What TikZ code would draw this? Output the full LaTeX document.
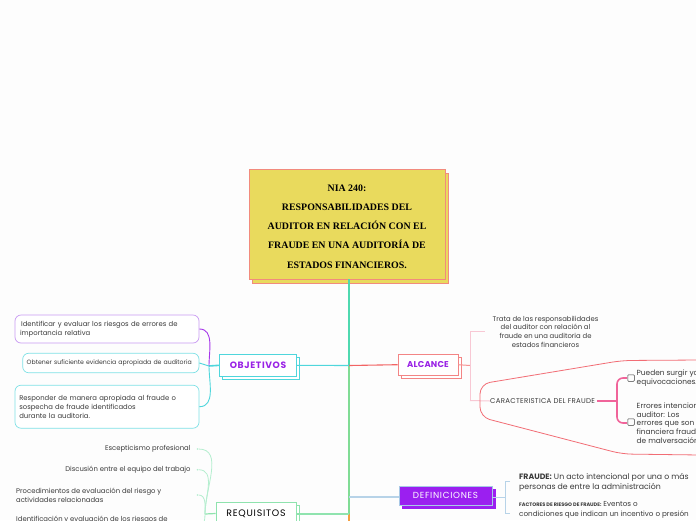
\documentclass[tikz,border=0pt]{standalone}
\usepackage{fontspec}
\setmainfont{Poppins}
\newfontfamily\titlefont{Liberation Serif}
\newfontfamily\spacedfont[LetterSpace=8]{Poppins}
\newfontfamily\spacedbold[LetterSpace=2]{Poppins}
\newfontfamily\widebold[LetterSpace=7]{Poppins}
\newfontfamily\capsfont[LetterSpace=4]{Poppins}
\usetikzlibrary{shadows}
\definecolor{bgc}{HTML}{FDFDFD}
\definecolor{titlefill}{HTML}{E9DA5D}
\definecolor{titledraw}{HTML}{F28B7D}
\definecolor{tealc}{HTML}{4FD6DC}
\definecolor{objtext}{HTML}{9A22E6}
\definecolor{redc}{HTML}{F26464}
\definecolor{alcdraw}{HTML}{F38585}
\definecolor{pinklight}{HTML}{F8C8D4}
\definecolor{bracepink}{HTML}{F0649A}
\definecolor{outlinered}{HTML}{F26D75}
\definecolor{deffill}{HTML}{9B1FF0}
\definecolor{defdraw}{HTML}{A8C8E6}
\definecolor{bluec}{HTML}{B7D3E8}
\definecolor{greenc}{HTML}{8FE3AE}
\definecolor{reqlight}{HTML}{B5EECF}
\definecolor{trunktop}{HTML}{4FD9B0}
\definecolor{trunklow}{HTML}{80DC95}
\definecolor{orangec}{HTML}{F5A040}
\definecolor{purpleline}{HTML}{A636EA}
\definecolor{purplebox}{HTML}{C99AF2}
\definecolor{tealbox}{HTML}{7FE1E6}
\definecolor{txt}{HTML}{3A3A3A}
\tikzset{
  body/.style={font=\fontsize{6.85}{8.8}\selectfont, text=txt, inner sep=0pt},
  hdr/.style={draw, line width=0.9pt, fill=white, inner sep=0pt,
    copy shadow={shadow xshift=3pt, shadow yshift=-3pt}},
  objbox/.style={draw, line width=0.7pt, rounded corners=6pt, fill=white,
    body, align=left},
  dotn/.style={circle, fill=reqlight, inner sep=0pt, minimum size=1.8pt},
  chk/.style={draw=txt, line width=0.5pt, rounded corners=0.8pt, minimum size=6.5pt, inner sep=0pt},
}
\begin{document}
\begin{tikzpicture}[x=1pt,y=-1pt]
\useasboundingbox (0,0) rectangle (696,520);
\fill[bgc] (0,0) rectangle (696,520);

% title
\node[draw=titledraw, line width=0.9pt, fill=titlefill, minimum width=196pt, minimum height=110pt,
  copy shadow={shadow xshift=3.5pt, shadow yshift=-4pt}] (title) at (347,224) {};
\node[font=\titlefont\bfseries\fontsize{9.9}{19.2}\selectfont, align=center, inner sep=0pt] (titletext) at (347,226.5)
  {NIA 240:\\RESPONSABILIDADES DEL\\AUDITOR EN RELACIÓN CON EL\\FRAUDE EN UNA AUDITORÍA DE\\ESTADOS FINANCIEROS.};

% trunk coordinates
\coordinate (tA) at (349,365.5);
\coordinate (tB) at (349,497);
\coordinate (tC) at (349,514);
\coordinate (tD) at (349,521);

% main nodes
\node[hdr, draw=tealc, minimum width=77pt, minimum height=22pt,
  font=\widebold\bfseries\fontsize{9.2}{10}\selectfont, text=objtext] (obj) at (258,365.3) {OBJETIVOS};
\node[hdr, draw=alcdraw, minimum width=60pt, minimum height=21pt,
  font=\spacedbold\bfseries\fontsize{8.5}{10}\selectfont, text=objtext] (alc) at (428,364.7) {ALCANCE};
\node[draw=defdraw, line width=0.9pt, fill=deffill, inner sep=0pt, minimum width=93pt, minimum height=19pt,
  copy shadow={shadow xshift=3pt, shadow yshift=-3pt, draw=deffill},
  font=\spacedfont\fontsize{8.8}{10}\selectfont, text=white] (def) at (445.5,495.5) {DEFINICIONES};
\node[hdr, draw=greenc, minimum width=80pt, minimum height=23pt,
  font=\spacedfont\fontsize{9.4}{10}\selectfont, text=black] (req) at (256,513.5) {REQUISITOS};

% trunk
\draw[trunktop, line width=1.2pt] (title.south -| tA) -- (tA);
\draw[trunklow, line width=1.2pt] (tA) -- (tC);
\draw[orangec, line width=1.2pt] (tC) -- (tD);

% branches from trunk
\draw[tealc, line width=1.1pt] (tA) -- (obj.east);
\draw[redc, line width=1.1pt] (tA) -- (alc.west);
\draw[bluec, line width=1.6pt] (tB) -- (def.west |- tB);
\draw[greenc, line width=1.1pt] (tC) -- (req.east |- tC);

% OBJETIVOS children
\node[objbox, draw=purplebox, minimum height=28pt, inner xsep=5pt, text width=174pt] (b1) at (107,329)
  {\,Identificar y evaluar los riesgos de errores de\\importancia relativa};
\node[objbox, draw=tealbox, minimum height=19.5pt, inner xsep=4pt, text width=168.3pt,
  font=\fontsize{6.2}{8.8}\selectfont] (b2) at (110.85,363)
  {Obtener suficiente evidencia apropiada de auditoria};
\node[objbox, draw=tealbox, minimum height=43pt, inner xsep=4.3pt, text width=175.4pt] (b3) at (107,406.7)
  {Responder de manera apropiada al fraude o\\sospecha de fraude identificados\\durante la auditoria.};
\coordinate (ofork) at (209,366);
\draw[tealc, line width=1.6pt] (obj.west) -- (ofork);
\draw[purpleline, line width=0.9pt] (b1.east) to[out=0,in=90] (ofork);
\draw[tealc, line width=0.9pt] (b2.east) to[out=0,in=180] (ofork);
\draw[tealc, line width=0.9pt] (b3.east) to[out=0,in=-90] (ofork);

% REQUISITOS children
\coordinate (rfork) at (205,514);
\draw[greenc, line width=1.2pt] (req.west) -- (rfork);
\node[dotn] (r1d) at (197.5,449) {};
\node[dotn] (r2d) at (197.5,469.7) {};
\node[dotn] (r3d) at (197.5,495) {};
\node[dotn] (r4d) at (197.5,527) {};
\foreach \d in {r1d,r2d,r3d}{
  \draw[reqlight, line width=0.8pt] (\d) to[out=0,in=90] (rfork);
}
\draw[reqlight, line width=0.8pt] (r4d) to[out=0,in=-90] (rfork);
\node[body, anchor=east] (r1) at (190.7,449) {Escepticismo profesional};
\node[body, anchor=east] (r2) at (190.7,469.7) {Discusión entre el equipo del trabajo};
\node[body, anchor=west, align=left] (r3) at (16,495.5) {Procedimientos de evaluación del riesgo y\\actividades relacionadas};
\node[body, anchor=west] (r4) at (16,519.5) {Identificación y evaluación de los riesgos de};

% ALCANCE children
\coordinate (afork) at (470,365.5);
\coordinate (atop) at (470,331.7);
\coordinate (abot) at (470,400.5);
\draw[redc!70, line width=1pt] (alc.east) -- (afork);
\draw[pinklight, line width=1pt] (atop) -- (abot);
\node[body, align=center] (a1) at (545.5,331.7) {Trata de las responsabilidades\\del auditor con relación al\\fraude en una auditoria de\\estados financieros};
\draw[pinklight, line width=1pt] (atop) -- ++(15,0);
\node[body, anchor=west, font=\capsfont\fontsize{7}{9}\selectfont] (car) at (490,401) {CARACTERISTICA DEL FRAUDE};
\draw[pinklight, line width=1pt] (abot) -- (car.west);

% outline around characteristic
\draw[outlinered, line width=0.8pt, rounded corners=10pt]
  (700,360) -- (622,360.5) -- (480,384) -- (480,417) -- (622,454) -- (700,455);

% brace
\coordinate (bfork) at (617,401);
\coordinate (btop) at (627,378);
\coordinate (bbot) at (627,423);
\draw[bracepink, line width=1.6pt] (car.east) ++(2,0) -- (bfork);
\draw[bracepink, line width=1.6pt, rounded corners=6pt] (btop) -- (617,378) -- (617,423) -- (bbot);

\node[chk] (c1) at (631,378) {};
\node[chk] (c2) at (631,422) {};
\node[body, anchor=west, align=left, font=\fontsize{7.4}{8.9}\selectfont] (t1) at (636.5,378.2) {Pueden surgir ya sea\\equivocaciones.};
\node[body, anchor=west, align=left, font=\fontsize{7.4}{8.9}\selectfont] (t2) at (636.5,423.2) {Errores intencionales\\auditor: Los\\errores que son materiales\\financiera fraudulenta\\de malversación};

% DEFINICIONES children
\coordinate (dfork) at (505,497);
\draw[bluec, line width=1pt] (def.east |- dfork) -- (dfork);
\draw[bluec, line width=1pt] (510,481.7) -- (505,481.7) -- (505,513) -- (510,513);
\node[body, anchor=west, align=left, font=\fontsize{7.8}{10}\selectfont] (d1) at (519,482) {\textbf{FRAUDE:} Un acto intencional por una o más\\personas de entre la administración};
\node[body, anchor=west, align=left, font=\fontsize{7.2}{9.2}\selectfont] (d2) at (519,510) {{\fontsize{5}{9.2}\selectfont\textbf{FACTORES DE RIESGO DE FRAUDE:}} Eventos o\\condiciones que indican un incentivo o presión};
\end{tikzpicture}
\end{document}
